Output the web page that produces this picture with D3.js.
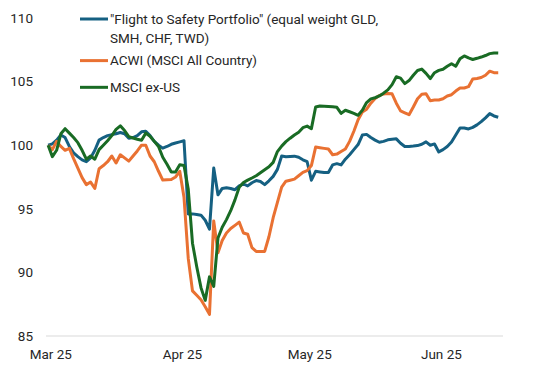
<!DOCTYPE html>
<html>
<head>
<meta charset="utf-8">
<script src="https://d3js.org/d3.v7.min.js"></script>
<style>
  body { margin: 0; background: #fff; }
  text { font-family: Roboto, "Liberation Sans", sans-serif; fill: #262626; }
</style>
</head>
<body>
<script>
// daily points, 28 Feb 2025 .. 14 Jun 2025 (weekends carried through)
const startDate = new Date(2025, 1, 28);
const endDate = new Date(2025, 5, 15);

const seriesNames = [
  ['"Flight to Safety Portfolio" (equal weight GLD,', 'SMH, CHF, TWD)'],
  ['ACWI (MSCI All Country)'],
  ['MSCI ex-US']
];
const seriesColors = ["#156082", "#E97132", "#196B24"];

const flightToSafety = [
  100.0, 100.1, 100.4, 100.8, 100.6, 99.9, 99.4, 99.1, 98.85, 98.7,
  99.0, 99.6, 100.4, 100.6, 100.75, 100.83, 100.9, 101.0, 100.9, 100.55,
  100.6, 100.75, 101.05, 101.1, 100.75, 100.3, 100.0, 99.77, 99.9, 100.07,
  100.17, 100.26, 100.35, 94.6, 94.6, 94.55, 94.5, 94.1, 93.4, 98.2,
  96.1, 96.6, 96.65, 96.6, 96.5, 96.8, 96.95, 96.8, 97.05, 97.22,
  97.15, 96.9, 97.2, 97.55, 98.1, 99.15, 99.1, 99.12, 99.14, 99.05,
  98.85, 98.7, 97.25, 97.95, 97.9, 97.85, 97.85, 98.45, 98.55, 98.45,
  98.9, 99.25, 99.65, 100.05, 100.8, 100.85, 100.6, 100.4, 100.23, 100.3,
  100.42, 100.47, 100.5, 100.15, 99.9, 99.9, 99.93, 99.97, 100.07, 100.26,
  100.0, 100.1, 99.47, 99.65, 99.9, 100.25, 100.8, 101.35, 101.35, 101.28,
  101.4, 101.6, 101.85, 102.15, 102.48, 102.3, 102.2
];

const acwi = [
  100.0, 99.65, 100.3, 99.9, 99.6, 99.75, 98.95, 98.2, 97.45, 96.9,
  97.1, 96.6, 98.15, 98.4, 98.7, 99.15, 98.6, 99.25, 99.0, 98.75,
  99.15, 99.55, 100.0, 100.0, 99.15, 98.7, 97.95, 97.26, 97.28, 97.3,
  97.5, 97.95, 95.9, 91.1, 88.55, 88.2, 87.85, 87.3, 86.7, 94.05,
  91.55, 92.5, 93.1, 93.45, 93.7, 93.95, 93.1, 93.0, 91.95, 91.65,
  91.65, 91.65, 92.8, 94.3, 95.5, 96.7, 97.17, 97.25, 97.33, 97.6,
  97.86, 98.0, 98.4, 99.85, 99.8, 99.75, 99.7, 99.25, 99.3, 99.5,
  99.7, 100.3, 101.1, 102.0, 102.6, 102.83, 103.3, 103.67, 103.9, 104.03,
  104.07, 104.04, 103.3, 102.7, 102.55, 102.4, 103.0, 103.65, 104.0, 104.05,
  103.5, 103.55, 103.55, 103.65, 103.87, 103.97, 104.26, 104.5, 104.5, 104.6,
  105.2, 105.25, 105.32, 105.5, 105.82, 105.7, 105.7
];

const msciExUs = [
  100.0, 99.1, 99.6, 100.9, 101.3, 100.95, 100.6, 100.2, 99.6, 98.9,
  99.15, 98.9, 99.65, 100.0, 100.35, 100.75, 101.25, 101.52, 101.15, 100.67,
  100.57, 100.47, 100.39, 100.95, 100.7, 100.3, 99.9, 99.05, 98.5, 97.9,
  97.9, 98.47, 98.4, 96.55, 92.3, 90.45, 88.8, 87.8, 89.65, 88.9,
  92.7, 93.55, 94.15, 94.85, 95.7, 96.7, 97.07, 97.25, 97.42, 97.6,
  97.84, 98.07, 98.3, 98.65, 99.5, 99.93, 100.28, 100.55, 100.8, 101.02,
  101.38, 101.5, 101.3, 103.0, 103.08, 103.07, 103.05, 103.03, 102.98, 102.5,
  102.75, 102.63, 102.5, 102.35, 102.75, 103.35, 103.64, 103.73, 103.87, 104.09,
  104.35, 104.76, 105.38, 105.27, 104.84, 105.08, 105.5, 105.87, 105.98, 105.65,
  105.24, 105.7, 105.88, 105.97, 106.2, 106.4, 106.2, 106.8, 107.02, 106.86,
  106.74, 106.83, 106.93, 107.05, 107.2, 107.25, 107.24
];

const yTicks = [85, 90, 95, 100, 105, 110];
const xTickDates = [new Date(2025, 2, 1), new Date(2025, 3, 1), new Date(2025, 4, 1), new Date(2025, 5, 1)];

const width = 543, height = 377;
const fontSize = 13.5;
const dates = d3.timeDay.range(startDate, endDate);   // one per value
const allSeries = [flightToSafety, acwi, msciExUs];

const svg = d3.select("body").append("svg")
    .attr("width", width)
    .attr("height", height);

// date axis, points sit in the middle of their day
let x = d3.scaleTime()
    .domain([startDate, new Date(2025, 5, 15, 15)])
    .range([46, 503]);
let y = d3.scaleLinear()
    .domain([85, 110])
    .range([336, 18]);

// baseline at 85
svg.append("line")
    .attr("x1", 46).attr("x2", 503)
    .attr("y1", y(85)).attr("y2", y(85))
    .attr("stroke", "#d9d9d9")
    .attr("stroke-width", 1);

let yAxis = svg.append("g")
    .attr("transform", "translate(46,0)")
    .call(d3.axisLeft(y).tickValues(yTicks).tickSize(0).tickPadding(13).tickFormat(d3.format("d")));
yAxis.select(".domain").remove();
yAxis.selectAll("text").attr("font-size", fontSize).attr("font-family", "Roboto, sans-serif").attr("fill", "#262626");

let xAxis = svg.append("g")
    .attr("transform", "translate(0," + y(85) + ")")
    .call(d3.axisBottom(x).tickValues(xTickDates).tickSize(0).tickPadding(13).tickFormat(d3.timeFormat("%b %y")));
xAxis.select(".domain").remove();
xAxis.selectAll("text").attr("font-size", fontSize).attr("font-family", "Roboto, sans-serif").attr("fill", "#262626");

let line = d3.line()
    .x((d, i) => x(d3.timeHour.offset(dates[i], 12)))
    .y(d => y(d));

svg.selectAll("path.series")
    .data(allSeries)
    .join("path")
        .attr("class", "series")
        .attr("d", d => line(d))
        .attr("fill", "none")
        .attr("stroke", (d, i) => seriesColors[i])
        .attr("stroke-width", 3)
        .attr("stroke-linejoin", "round");

// legend
let legendY = [y(110) + 1, y(106.65), y(104.55)];
let legend = svg.selectAll("g.legend")
    .data(seriesNames)
    .join("g")
        .attr("class", "legend")
        .attr("transform", (d, i) => "translate(80," + legendY[i] + ")");
legend.append("line")
    .attr("x1", 0).attr("x2", 28)
    .attr("stroke", (d, i) => seriesColors[i])
    .attr("stroke-width", 3);
legend.append("text")
    .attr("x", 30)
    .attr("font-size", fontSize)
    .selectAll("tspan")
    .data(d => d)
    .join("tspan")
        .attr("x", 30)
        .attr("y", (d, i) => 4.5 + i * 19.5)
        .text(d => d);
</script>
</body>
</html>
